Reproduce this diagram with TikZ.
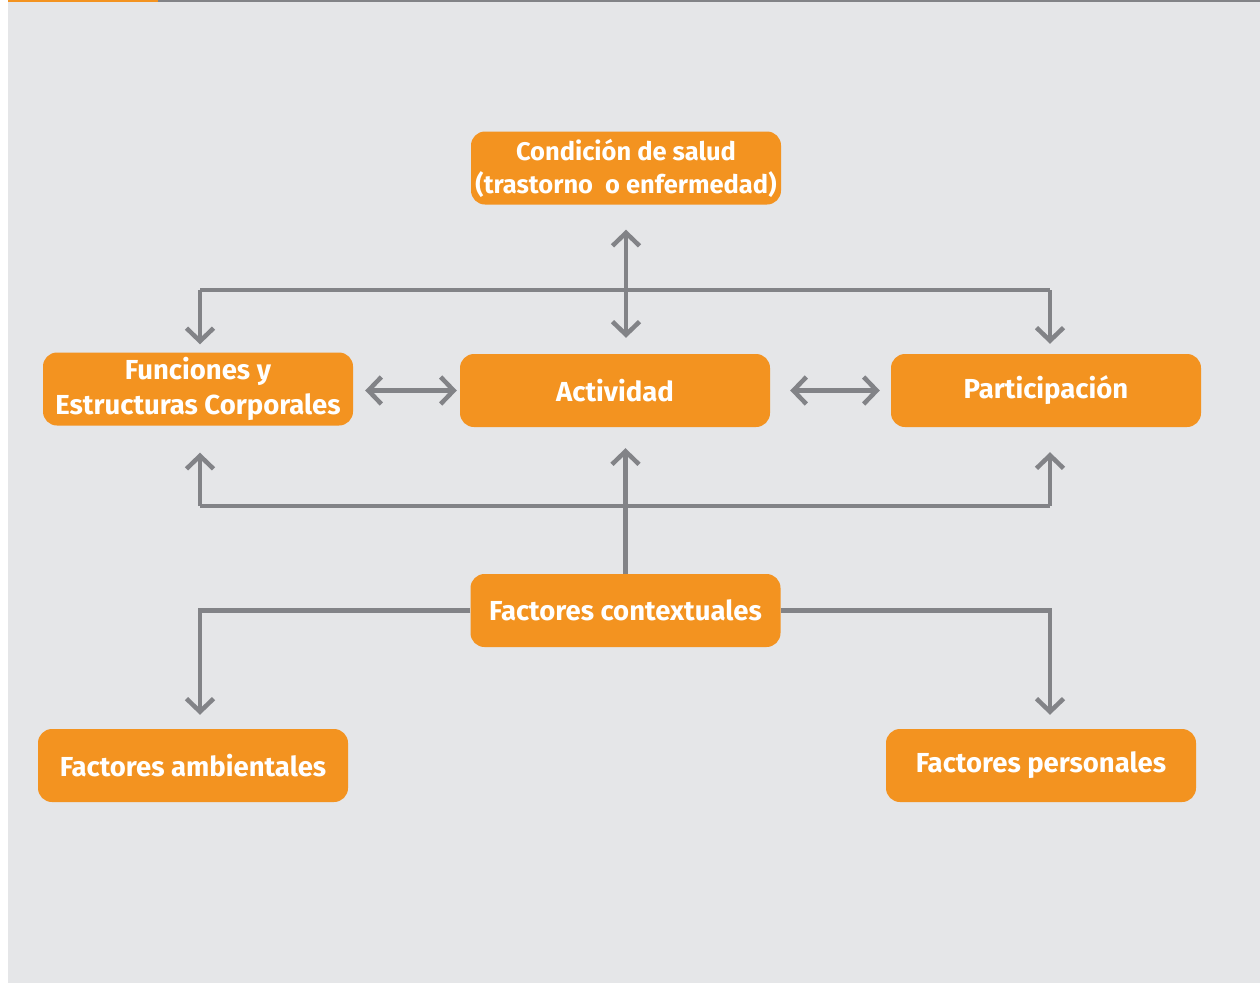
\documentclass[tikz,border=0pt]{standalone}
\usepackage{fontspec}
\setmainfont{Fira Sans}
\usetikzlibrary{arrows.meta,calc}
\definecolor{bggray}{HTML}{E5E6E8}
\definecolor{boxorange}{HTML}{F39320}
\definecolor{linegray}{HTML}{828387}
\tikzset{
  box/.style={fill=boxorange, rounded corners=14pt, minimum width=310pt, minimum height=73pt,
    inner sep=0pt, text=white, font=\fontsize{27.5}{34.5}\selectfont\bfseries, align=center},
  conn/.style={draw=linegray, line width=4.5pt},
  arr/.style={conn, -{Straight Barb[length=13pt,width=27pt]}},
  darr/.style={conn, {Straight Barb[length=13pt,width=27pt]}-{Straight Barb[length=13pt,width=27pt]}}
}
\begin{document}
\begin{tikzpicture}[x=1pt,y=-1pt]
\useasboundingbox (0,0) rectangle (1260,983);
\fill[white] (0,0) rectangle (1260,983);
\fill[bggray] (8,0) rectangle (1260,983);
\fill[boxorange] (8,0) rectangle (158,1.8);
\fill[linegray] (158,0) rectangle (1260,1.8);

\node[box, font=\fontsize{25.5}{33}\selectfont\bfseries] (cond) at (626,168) {Condición de salud\\(trastorno\ \ o enfermedad)};
\node[box] (fun) at (198,389) {Funciones y\\Estructuras Corporales};
\node[box] (act) at (615,390.5) {Actividad};
\node[box] (par) at (1046,390.5) {Participación};
\node[box] (fc) at (625.5,610.5) {Factores contextuales};
\node[box] (amb) at (193,765.5) {Factores ambientales};
\node[box] (per) at (1041,765.5) {Factores personales};

% upper distribution line
\coordinate (tl) at (200,290);
\coordinate (tr) at (1050,290);
\draw[conn] (tl) -- (tr);
\draw[arr, shorten >=8pt] (tl) -- (tl |- fun.north);
\draw[arr, shorten >=10pt] (tr) -- (tr |- par.north);
\draw[darr, shorten <=25pt, shorten >=16pt] (cond.south) -- (cond.south |- act.north);

% horizontal double arrows
\draw[darr, shorten <=12pt, shorten >=3pt] (fun.east |- act) -- (act.west);
\draw[darr, shorten <=20pt, shorten >=11pt] (act.east) -- (par.west);

% lower distribution line
\coordinate (bl) at (200,506);
\coordinate (br) at (1050,506);
\draw[conn] (bl) -- (br);
\draw[arr, shorten >=27pt] (bl) -- (bl |- fun.south);
\draw[arr, shorten >=25pt] (br) -- (br |- par.south);
\draw[arr, shorten >=21pt] (fc.north) -- (fc.north |- act.south);

% contextual factors branches
\coordinate (cl) at (200,610.5);
\coordinate (cr) at (1050,610.5);
\draw[arr, shorten >=14pt] (fc.west) -- (cl) -- (cl |- amb.north);
\draw[arr, shorten >=14pt] (fc.east) -- (cr) -- (cr |- per.north);
\end{tikzpicture}
\end{document}
